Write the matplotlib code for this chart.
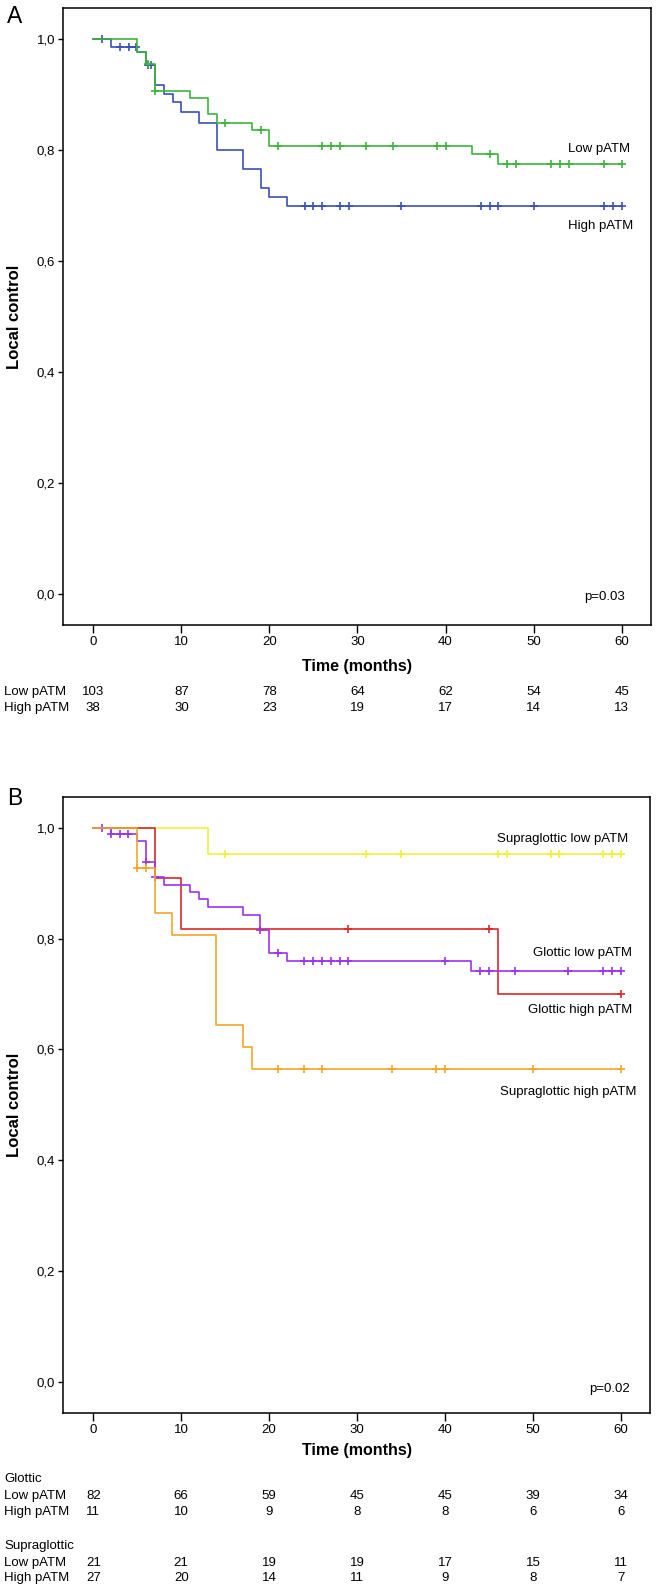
import numpy as np
import matplotlib
matplotlib.use("Agg")
import matplotlib.pyplot as plt
import matplotlib.transforms as mtransforms
from matplotlib.ticker import FuncFormatter

plt.rcParams['font.family'] = ['Liberation Sans', 'DejaVu Sans']

# ---- Panel A: Kaplan-Meier, low vs high pATM ----
low_times = [0, 5, 6, 7, 11, 13, 14, 18, 20, 43, 46]
low_surv = [1.0, 0.976, 0.955, 0.907, 0.893, 0.865, 0.849, 0.837, 0.808, 0.792, 0.774]
low_cens = [6.2, 7, 15, 19, 21, 26, 27, 28, 31, 34, 39, 40, 45, 47, 48, 52, 53, 54, 58, 60]

high_times = [0, 2, 5, 6, 7, 8, 9, 10, 12, 14, 17, 19, 20, 22]
high_surv = [1.0, 0.985, 0.976, 0.954, 0.917, 0.901, 0.886, 0.868, 0.849, 0.800, 0.766, 0.731, 0.715, 0.700]
high_cens = [1, 3, 4, 4.9, 6.2, 6.6, 24, 25, 26, 28, 29, 35, 44, 45, 46, 50, 58, 59, 60]

risk_ticks = [0, 10, 20, 30, 40, 50, 60]
risk_low_A = [103, 87, 78, 64, 62, 54, 45]
risk_high_A = [38, 30, 23, 19, 17, 14, 13]

# ---- Panel B: by site ----
sup_low_times = [0, 13]
sup_low_surv = [1.0, 0.953]
sup_low_cens = [15, 31, 35, 46, 47, 52, 53, 58, 59, 60]

glo_high_times = [0, 7, 10, 46]
glo_high_surv = [1.0, 0.909, 0.818, 0.701]
glo_high_cens = [29, 45, 60]

glo_low_times = [0, 2, 5, 6, 7, 8, 11, 12, 13, 17, 19, 20, 22, 43]
glo_low_surv = [1.0, 0.989, 0.976, 0.938, 0.911, 0.897, 0.884, 0.871, 0.857, 0.843, 0.816, 0.775, 0.760, 0.742]
glo_low_cens = [1, 2, 3, 4, 6, 7, 19, 21, 24, 25, 26, 27, 28, 29, 40, 44, 45, 48, 54, 58, 59, 60]

sup_high_times = [0, 5, 7, 9, 14, 17, 18]
sup_high_surv = [1.0, 0.9276, 0.846, 0.806, 0.645, 0.605, 0.564]
sup_high_cens = [5, 6, 21, 24, 26, 34, 39, 40, 50, 60]

risk_glo_low = [82, 66, 59, 45, 45, 39, 34]
risk_glo_high = [11, 10, 9, 8, 8, 6, 6]
risk_sup_low = [21, 21, 19, 19, 17, 15, 11]
risk_sup_high = [27, 20, 14, 11, 9, 8, 7]

W, H = 657, 1587
fig = plt.figure(figsize=(W / 100, H / 100), dpi=100)


def fy(px):
    return 1 - px / H


def km(ax, times, surv, cens, color, end=60):
    t = list(times) + [end]
    s = list(surv) + [surv[-1]]
    ax.step(t, s, where='post', color=color, lw=1.2)
    cy = [surv[np.searchsorted(times, c, side='right') - 1] for c in cens]
    ax.plot(cens, cy, ls='none', marker='+', ms=6, mew=1.2, color=color)


def style(ax):
    ax.set_xlim(-3.44, 63.3)
    ax.set_ylim(-0.056, 1.056)
    ax.set_xticks(risk_ticks)
    ax.set_yticks([0, 0.2, 0.4, 0.6, 0.8, 1.0])
    ax.yaxis.set_major_formatter(FuncFormatter(lambda v, p: f"{v:.1f}".replace('.', ',')))
    ax.tick_params(axis='x', length=6, width=1, direction='out', labelsize=9.5, pad=2)
    ax.tick_params(axis='y', length=3.6, width=1, direction='out', labelsize=9.5, pad=2)
    for sp in ax.spines.values():
        sp.set_linewidth(1.1)


# Panel A
axA = fig.add_axes([63 / W, fy(625), (650.7 - 63) / W, (625 - 8) / H])
km(axA, high_times, high_surv, high_cens, '#3a50b4')
km(axA, low_times, low_surv, low_cens, '#3cb43c')
style(axA)
axA.text(61.0, 0.802, 'Low pATM', ha='right', va='center', fontsize=9.5)
axA.text(61.3, 0.664, 'High pATM', ha='right', va='center', fontsize=9.5)
axA.text(0.956, 0.046, 'p=0.03', transform=axA.transAxes, ha='right', va='center', fontsize=9.5)
fig.text(7 / W, fy(23.3), 'A', fontsize=16.5, va='baseline')
fig.text(15 / W, fy((8 + 625) / 2), 'Local control', rotation=90, ha='center', va='center',
         fontsize=12, fontweight='bold')
fig.text((93.3 + 30 * 8.8) / W, fy(666.7), 'Time (months)', ha='center', va='center',
         fontsize=11.5, fontweight='bold')

trA = mtransforms.blended_transform_factory(axA.transData, fig.transFigure)
for label, vals, ypx in [('Low pATM', risk_low_A, 691.7), ('High pATM', risk_high_A, 708.3)]:
    fig.text(4 / W, fy(ypx), label, va='center', fontsize=9.5)
    for x, v in zip(risk_ticks, vals):
        axA.text(x, fy(ypx), str(v), transform=trA, ha='center', va='center', fontsize=9.5)

# Panel B
axB = fig.add_axes([63 / W, fy(1412.6), (650 - 63) / W, (1412.6 - 797) / H])
km(axB, sup_low_times, sup_low_surv, sup_low_cens, '#f0f03c')
km(axB, glo_high_times, glo_high_surv, glo_high_cens, '#dc2828')
km(axB, glo_low_times, glo_low_surv, glo_low_cens, '#9b32f0')
km(axB, sup_high_times, sup_high_surv, sup_high_cens, '#f5a52a')
style(axB)
axB.text(60.8, 0.980, 'Supraglottic low pATM', ha='right', va='center', fontsize=9.5)
axB.text(61.2, 0.774, 'Glottic low pATM', ha='right', va='center', fontsize=9.5)
axB.text(61.3, 0.672, 'Glottic high pATM', ha='right', va='center', fontsize=9.5)
axB.text(61.8, 0.523, 'Supraglottic high pATM', ha='right', va='center', fontsize=9.5)
axB.text(0.966, 0.038, 'p=0.02', transform=axB.transAxes, ha='right', va='center', fontsize=9.5)
fig.text(7 / W, fy(805), 'B', fontsize=16.5, va='baseline')
fig.text(15 / W, fy((797 + 1412.6) / 2), 'Local control', rotation=90, ha='center', va='center',
         fontsize=12, fontweight='bold')
fig.text((93.3 + 30 * 8.8) / W, fy(1450), 'Time (months)', ha='center', va='center',
         fontsize=11.5, fontweight='bold')

trB = mtransforms.blended_transform_factory(axB.transData, fig.transFigure)
fig.text(4 / W, fy(1479), 'Glottic', va='center', fontsize=9.5)
fig.text(4 / W, fy(1546), 'Supraglottic', va='center', fontsize=9.5)
rowsB = [('Low pATM', risk_glo_low, 1496), ('High pATM', risk_glo_high, 1511.7),
         ('Low pATM', risk_sup_low, 1562.7), ('High pATM', risk_sup_high, 1577.7)]
for label, vals, ypx in rowsB:
    fig.text(4 / W, fy(ypx), label, va='center', fontsize=9.5)
    for x, v in zip(risk_ticks, vals):
        axB.text(x, fy(ypx), str(v), transform=trB, ha='center', va='center', fontsize=9.5)

fig.savefig('out.png', dpi=100)
